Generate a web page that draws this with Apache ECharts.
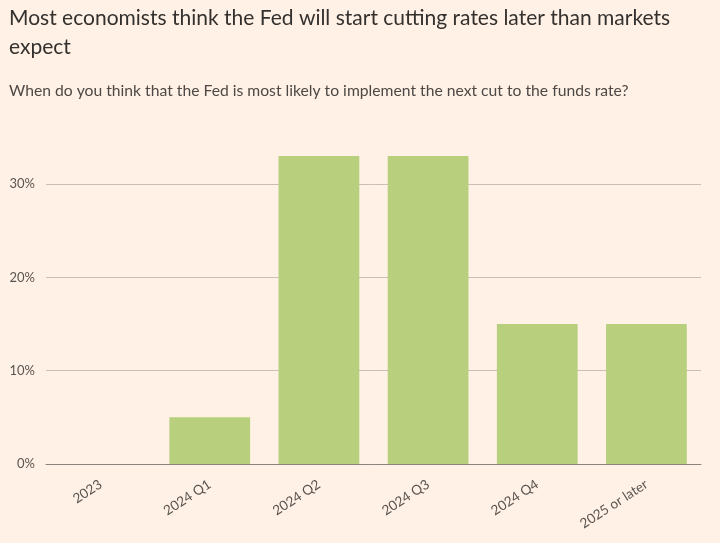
<!DOCTYPE html>
<html><head><meta charset="utf-8">
<script src="https://cdn.jsdelivr.net/npm/echarts@6/dist/echarts.min.js"></script>
<style>html,body{margin:0;padding:0;background:#fff1e5;}#c{width:720px;height:543px;}</style>
</head><body><div id="c"></div>
<script>
const categories = ['2023', '2024 Q1', '2024 Q2', '2024 Q3', '2024 Q4', '2025 or later'];
const values = [0, 5, 33, 33, 15, 15];
const yTicks = [0, 10, 20, 30];
const titleText = 'Most economists think the Fed will start cutting rates later than markets\nexpect';
const subtitleText = 'When do you think that the Fed is most likely to implement the next cut to the funds rate?';

const grid = '#c9bfb8';
const chart = echarts.init(document.getElementById('c'), null, {renderer: 'canvas'});
chart.setOption({
  backgroundColor: '#fff1e5',
  animation: false,
  title: [{
    text: titleText,
    left: 4, top: -1,
    textStyle: {fontFamily: 'Lato', fontWeight: 'normal', fontSize: 21, color: '#33302e', lineHeight: 29}
  }, {
    text: subtitleText,
    left: 4, top: 78,
    textStyle: {fontFamily: 'Lato', fontWeight: 'normal', fontSize: 15.7, color: '#4d4845'}
  }],
  grid: {left: 46, right: 19, top: 156, bottom: 79},
  xAxis: {
    type: 'category',
    data: categories,
    axisLine: {lineStyle: {color: '#8a837e', width: 1}},
    axisTick: {alignWithLabel: true, length: 8, lineStyle: {color: '#8a837e'}},
    axisLabel: {rotate: 33, fontFamily: 'Lato', fontSize: 13.5, color: '#5a5450', margin: 19}
  },
  yAxis: {
    type: 'value',
    min: 0, max: 33, interval: 10,
    axisLine: {show: false},
    axisTick: {show: false},
    splitLine: {lineStyle: {color: [grid, grid, grid, grid, 'rgba(0,0,0,0)'], width: 1}},
    axisLabel: {
      fontFamily: 'Lato', fontSize: 13, color: '#5a5450', margin: 11,
      formatter: v => yTicks.includes(v) ? v + '%' : ''
    }
  },
  series: [{
    type: 'bar',
    data: values,
    barWidth: '74%',
    itemStyle: {color: '#b8d07e'}
  }]
});
</script></body></html>
